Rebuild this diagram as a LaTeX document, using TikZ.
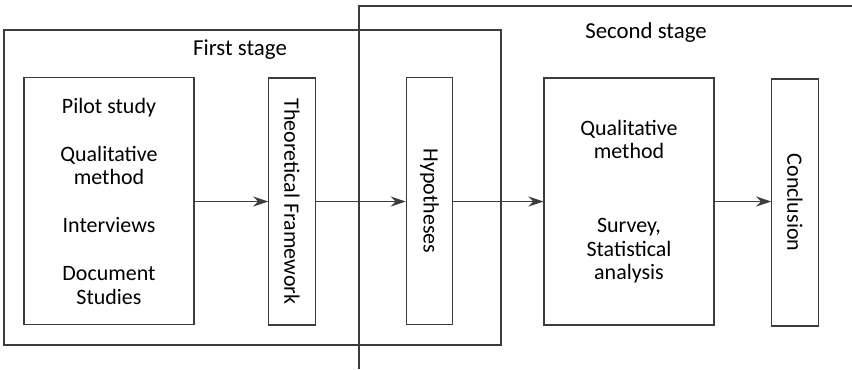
\documentclass[tikz,border=0pt]{standalone}
\usepackage{fontspec}
\setmainfont{Carlito}
\usetikzlibrary{arrows.meta, positioning}
\definecolor{lineg}{RGB}{60,60,60}

\begin{document}
\begin{tikzpicture}[
  stagebox/.style={draw=lineg, line width=0.6pt, minimum width=9.94cm, minimum height=6.3cm, inner sep=0pt},
  methodbox/.style={draw=lineg, line width=0.6pt, minimum width=3.4cm, minimum height=4.94cm, inner sep=0pt,
    align=center, font=\fontsize{12.5}{13.2}\selectfont},
  slimbox/.style={draw=lineg, line width=0.6pt, minimum width=0.93cm, minimum height=4.94cm, inner sep=0pt},
  vtext/.style={rotate=-90, font=\fontsize{12.5}{13.2}\selectfont},
  label/.style={font=\fontsize{13}{14}\selectfont},
  arrow/.style={-{Stealth[length=3mm, width=2mm]}, line width=0.6pt, lineg}
]
  \useasboundingbox (0,0) rectangle (17.04,-7.38);
  % stages
  \node[stagebox] (s1) at (5.05,-3.75) {};
  \node[label] (s1lab) at (4.8,-1.0) {First stage};
  \coordinate (s2a) at (7.18,-7.38);
  \coordinate (s2b) at (7.18,-0.12);
  \coordinate (s2c) at (17.04,-0.12);
  \draw[draw=lineg, line width=0.6pt] (s2a) -- (s2b) -- (s2c);
  \node[label] (s2lab) at (12.92,-0.66) {Second stage};
  % boxes
  \node[methodbox] (pilot) at (2.18,-4.02)
    {Pilot study\\[0.5cm] Qualitative\\ method\\[0.5cm] Interviews\\[0.5cm] Document\\ Studies};
  \node[slimbox] (theory) at (5.84,-4.03) {};
  \node[vtext] at (theory.center) {Theoretical Framework};
  \node[slimbox] (hyp) at (8.59,-4.02) {};
  \node[vtext] at (hyp.center) {Hypotheses};
  \node[methodbox] (survey) at (12.58,-4.03)
    {Qualitative\\ method\\[1.02cm] Survey,\\ Statistical\\ analysis};
  \node[slimbox] (concl) at (15.9,-4.05) {};
  \node[vtext] at (concl.center) {Conclusion};
  % arrows
  \draw[arrow] (pilot.east |- 0,-4.03) -- (theory.west |- 0,-4.03);
  \draw[arrow] (theory.east |- 0,-4.03) -- (hyp.west |- 0,-4.03);
  \draw[arrow] (hyp.east |- 0,-4.03) -- (survey.west |- 0,-4.03);
  \draw[arrow] (survey.east |- 0,-4.03) -- (concl.west |- 0,-4.03);
\end{tikzpicture}
\end{document}
